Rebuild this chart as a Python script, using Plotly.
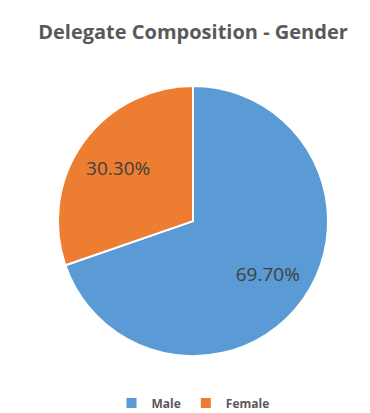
import plotly.graph_objects as go

labels = ["Male", "Female"]
values = [69.70, 30.30]
colors = ["#5B9BD5", "#ED7D31"]
title_text = "Delegate Composition - Gender"

dom = dict(x=[0.135, 0.865], y=[0.157, 0.811])

fig = go.Figure()
# filled pie
fig.add_trace(go.Pie(
    labels=labels,
    values=values,
    sort=False,
    direction="clockwise",
    rotation=0,
    marker=dict(colors=colors, line=dict(color="white", width=2)),
    textinfo="none",
    domain=dom,
    hoverinfo="label+percent",
))
# transparent label ring so value labels sit further out, as in the reference
fig.add_trace(go.Pie(
    labels=labels,
    values=values,
    sort=False,
    direction="clockwise",
    rotation=0,
    hole=0.36,
    marker=dict(colors=["rgba(0,0,0,0)"] * 2, line=dict(width=0)),
    texttemplate="%{value:.2f}%",
    textposition="inside",
    insidetextorientation="horizontal",
    textfont=dict(family="Open Sans", size=19, color="#404040"),
    domain=dom,
    showlegend=False,
    hoverinfo="skip",
))

fig.update_layout(
    width=370, height=413,
    margin=dict(l=0, r=0, t=0, b=0),
    paper_bgcolor="white",
    title=dict(text="<b>" + title_text + "</b>", x=0.5, xanchor="center",
               y=1 - 24 / 413, yanchor="middle",
               font=dict(family="Open Sans", size=20, color="#595959")),
    legend=dict(orientation="h", x=0.5, xanchor="center", y=1 - 395 / 413, yanchor="middle",
                font=dict(family="Open Sans", size=12, color="#595959", weight="bold"),
                itemwidth=30, traceorder="normal"),
    showlegend=True,
)

fig.write_html("out.html")
